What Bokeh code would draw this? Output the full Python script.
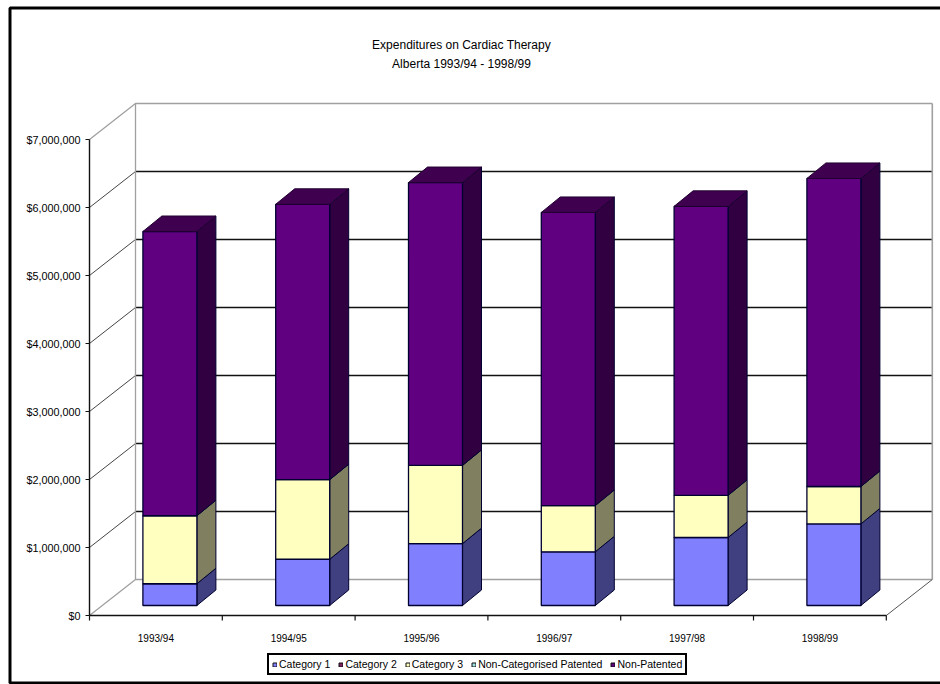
from bokeh.core.properties import value
from bokeh.embed import file_html
from bokeh.models import FixedTicker, Legend, LegendItem, LinearAxis, Range1d
from bokeh.plotting import figure
from bokeh.resources import INLINE

# Annual spending, in dollars, by drug group
years = ["1993/94", "1994/95", "1995/96", "1996/97", "1997/98", "1998/99"]
category_1 = [320000, 680000, 910000, 790000, 1000000, 1200000]
category_3 = [1000000, 1170000, 1150000, 680000, 620000, 550000]
non_patented = [4180000, 4050000, 4160000, 4310000, 4250000, 4530000]

legend_labels = ["Category 1", "Category 2", "Category 3",
                 "Non-Categorised Patented", "Non-Patented"]
title_lines = ["Expenditures on Cardiac Therapy", "Alberta 1993/94 - 1998/99"]
y_ticks = [0, 1000000, 2000000, 3000000, 4000000, 5000000, 6000000, 7000000]

FONT = "Liberation Sans"
W, H = 940, 684
AXIS_X, AXIS_Y = 89, 615       # canvas position of the chart origin
PX_PER_CAT = 132.8
PX_PER_DOLLAR = 68 / 1000000


def dx(px):
    return px / PX_PER_CAT


def dy(px):
    return px / PX_PER_DOLLAR


p = figure(width=W, height=H, output_backend="svg", toolbar_location=None,
           x_range=Range1d(dx(-AXIS_X), dx(W - AXIS_X)),
           y_range=Range1d(dy(AXIS_Y - H), dy(AXIS_Y)),
           x_axis_type=None, y_axis_type=None,
           min_border_left=0, min_border_right=0, min_border_top=0, min_border_bottom=0,
           outline_line_color=None, background_fill_color="white",
           border_fill_color="white")
p.xgrid.visible = False
p.ygrid.visible = False

# Depth of the chart box and of each bar, expressed in axis units
wall_dx, wall_dy = dx(46), dy(36)
bar_dx, bar_dy = dx(19), dy(15.5)
bar_off_x, bar_off_y = dx(14), dy(10)
bar_w = dx(54)

# Back wall and floor
grid_ticks = y_ticks[1:-1]
p.segment(x0=[wall_dx] * len(grid_ticks), x1=[6 + wall_dx] * len(grid_ticks),
          y0=[t + wall_dy for t in grid_ticks], y1=[t + wall_dy for t in grid_ticks],
          line_color="#111111", line_width=1.4)
p.segment(x0=[0] * len(grid_ticks), x1=[wall_dx] * len(grid_ticks),
          y0=grid_ticks, y1=[t + wall_dy for t in grid_ticks],
          line_color="#444444", line_width=1)
for t in (0, 7000000):
    p.line([0, wall_dx, 6 + wall_dx], [t, t + wall_dy, t + wall_dy],
           line_color="#a0a0a0", line_width=1.3)
p.line([wall_dx, wall_dx], [wall_dy, 7000000 + wall_dy], line_color="#a0a0a0", line_width=1.3)
p.line([6 + wall_dx, 6 + wall_dx], [wall_dy, 7000000 + wall_dy],
       line_color="#a0a0a0", line_width=1.6)
p.line([6, 6 + wall_dx], [0, wall_dy], line_color="#555555", line_width=1)

# Stacked bars, each segment with a front and side face, and a top on the stack
series = [(category_1, "#8080ff", "#404080"),
          (category_3, "#ffffc0", "#808060"),
          (non_patented, "#600080", "#300040")]
base = [0.0] * len(years)
x_left = [i + 0.5 + bar_off_x - bar_w / 2 for i in range(len(years))]
for values, front, side in series:
    top = [b + v for b, v in zip(base, values)]
    side_xs = [[x + bar_w, x + bar_w + bar_dx, x + bar_w + bar_dx, x + bar_w] for x in x_left]
    side_ys = [[b + bar_off_y, b + bar_off_y + bar_dy, t + bar_off_y + bar_dy, t + bar_off_y]
               for b, t in zip(base, top)]
    p.patches(side_xs, side_ys, fill_color=side, line_color="#000030", line_width=1)
    p.quad(left=x_left, right=[x + bar_w for x in x_left],
           bottom=[b + bar_off_y for b in base], top=[t + bar_off_y for t in top],
           fill_color=front, line_color="#000030", line_width=1.3)
    base = top

top_xs = [[x, x + bar_w, x + bar_w + bar_dx, x + bar_dx] for x in x_left]
top_ys = [[t + bar_off_y, t + bar_off_y, t + bar_off_y + bar_dy, t + bar_off_y + bar_dy]
          for t in base]
p.patches(top_xs, top_ys, fill_color="#400050", line_color="#200030", line_width=1)

# Axes sit inside the full-canvas frame at the chart origin
y_axis = LinearAxis(ticker=FixedTicker(ticks=y_ticks), bounds=(0, 7000000), fixed_location=0,
                    major_label_overrides={t: f"${t:,}" for t in y_ticks})
y_axis.major_label_text_font = FONT
y_axis.major_label_text_font_size = "10.8px"
y_axis.major_label_text_color = "#000000"
y_axis.major_label_standoff = 5
y_axis.axis_line_color = "#111111"
y_axis.axis_line_width = 1.4
y_axis.major_tick_line_color = "#111111"
y_axis.major_tick_in = 0
y_axis.major_tick_out = 4
y_axis.minor_tick_line_color = None
p.add_layout(y_axis, "left")

x_axis = LinearAxis(ticker=FixedTicker(ticks=[i + 0.5 for i in range(6)]), bounds=(0, 6),
                    fixed_location=0,
                    major_label_overrides={i + 0.5: y for i, y in enumerate(years)})
x_axis.major_label_text_font = FONT
x_axis.major_label_text_font_size = "10px"
x_axis.major_label_text_color = "#000000"
x_axis.major_label_standoff = 11
x_axis.axis_line_color = "#111111"
x_axis.axis_line_width = 1.4
x_axis.major_tick_line_color = None
x_axis.minor_tick_line_color = None
p.add_layout(x_axis, "below")
category_edges = list(range(7))
p.segment(x0=category_edges, x1=category_edges, y0=[0] * 7, y1=[-dy(5)] * 7,
          line_color="#111111", line_width=1.2)

# Two-line title, centred above the plot
p.text(x=[dx(461 - AXIS_X)] * 2, y=[dy(AXIS_Y - 44), dy(AXIS_Y - 63)], text=title_lines,
       text_align="center", text_baseline="middle", text_font=value(FONT),
       text_font_size="12px", text_color="#000000")

# Legend swatches in series order
swatches = ["#8080ff", "#802060", "#ffffc0", "#a0e0e0", "#600080"]
items = []
for label, colour in zip(legend_labels, swatches):
    r = p.quad(left=[0], right=[0], bottom=[0], top=[0], fill_color=colour,
               line_color="#111111", line_width=1)
    items.append(LegendItem(label=label, renderers=[r]))
legend = Legend(items=items, orientation="horizontal", location=(267, 9),
                border_line_color="#000000", border_line_width=2, border_line_alpha=1,
                label_text_font=FONT, label_text_font_size="10.5px",
                label_text_color="#000000", glyph_width=5, glyph_height=5,
                label_standoff=2, spacing=8, padding=3, margin=0,
                background_fill_alpha=1, label_height=10)
p.add_layout(legend, "center")

# Rule along the left, top and bottom edges of the chart area
p.line([dx(W - AXIS_X), dx(9.5 - AXIS_X), dx(9.5 - AXIS_X), dx(W - AXIS_X)],
       [dy(AXIS_Y - 7.5), dy(AXIS_Y - 7.5), dy(AXIS_Y - 682.5), dy(AXIS_Y - 682.5)],
       line_color="#000000", line_width=3)

open("out.html", "w").write(file_html(p, INLINE))
